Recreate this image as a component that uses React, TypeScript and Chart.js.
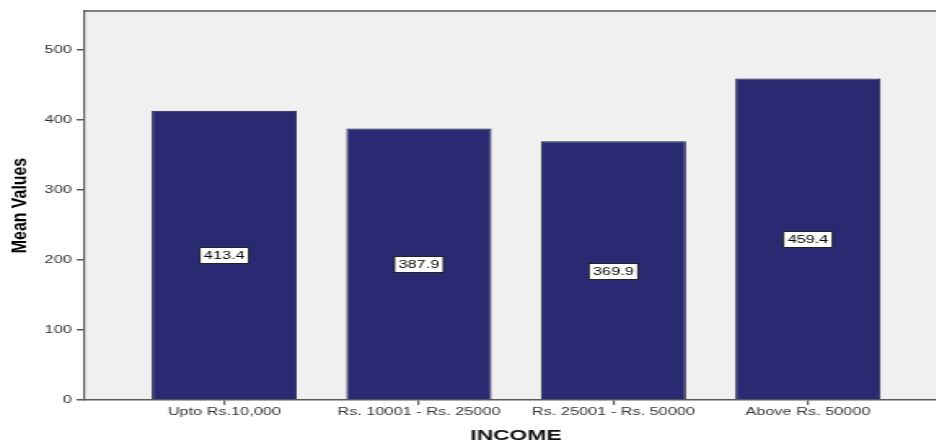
import React, { useEffect, useRef } from "react";
import { Chart, registerables } from "chart.js";

Chart.register(...registerables);

const categories = ["Upto Rs.10,000", "Rs. 10001 - Rs. 25000", "Rs. 25001 - Rs. 50000", "Above Rs. 50000"];
const meanValues = [413.4, 387.9, 369.9, 459.4];
const yTicks = [0, 100, 200, 300, 400, 500];

// the reference picture is stretched horizontally; draw narrow and stretch
const STRETCH = 1.63;
const CANVAS_W = 589;
const CANVAS_H = 445;

const frameColor = "#5a5a5a";
const FONT = "'Liberation Sans', Arial, sans-serif";

const plotFrame = {
  id: "plotFrame",
  beforeDraw(chart: any) {
    const { ctx, chartArea: a } = chart;
    ctx.save();
    ctx.fillStyle = "#f0f0f0";
    ctx.fillRect(a.left, a.top, a.right - a.left, a.bottom - a.top);
    ctx.strokeStyle = frameColor;
    ctx.lineWidth = 1.5;
    ctx.beginPath();
    ctx.moveTo(a.left, a.top);
    ctx.lineTo(CANVAS_W, a.top);
    ctx.stroke();
    ctx.restore();
  },
  afterDraw(chart: any) {
    const { ctx, chartArea: a } = chart;
    // y-axis title
    ctx.save();
    ctx.translate(12.5, (a.top + a.bottom) / 2);
    ctx.rotate(-Math.PI / 2);
    ctx.scale(1.27, 1);
    ctx.font = `bold 12.5px ${FONT}`;
    ctx.fillStyle = "#000";
    ctx.textAlign = "center";
    ctx.textBaseline = "middle";
    ctx.fillText("Mean Values", 0, 0);
    ctx.restore();
  },
};

const valueBoxes = {
  id: "valueBoxes",
  afterDatasetsDraw(chart: any) {
    const { ctx } = chart;
    const meta = chart.getDatasetMeta(0);
    const yScale = chart.scales.y;
    ctx.save();
    ctx.font = `10px ${FONT}`;
    ctx.textAlign = "center";
    ctx.textBaseline = "middle";
    meta.data.forEach((bar: any, i: number) => {
      const v = meanValues[i];
      const txt = v.toFixed(1);
      const cx = bar.x;
      const cy = yScale.getPixelForValue(v / 2);
      const w = ctx.measureText(txt).width + 5;
      const h = 16;
      const x0 = cx - w / 2;
      const y0 = Math.round(cy - h / 2) + 0.5;
      ctx.fillStyle = "#ffffff";
      ctx.fillRect(x0, y0, w, h);
      ctx.strokeStyle = "#222";
      ctx.lineWidth = 1;
      ctx.strokeRect(x0, y0, w, h);
      ctx.fillStyle = "#000";
      ctx.fillText(txt, cx, y0 + h / 2 + 0.5);
    });
    ctx.restore();
  },
};

export default function App() {
  const ref = useRef<HTMLCanvasElement>(null);
  useEffect(() => {
    if (!ref.current) return;
    const chart = new Chart(ref.current, {
      type: "bar",
      data: {
        datasets: [
          {
            data: meanValues.map((v, i) => ({ x: i, y: v })),
            backgroundColor: "#292a72",
            borderColor: "#1c1c40",
            borderWidth: 1,
            categoryPercentage: 1,
            barPercentage: 0.746,
          },
        ],
      },
      options: {
        animation: false,
        responsive: false,
        devicePixelRatio: 1,
        layout: { padding: { top: 11, right: CANVAS_W - 581, left: 0, bottom: 0 } },
        plugins: { legend: { display: false }, tooltip: { enabled: false } },
        scales: {
          x: {
            type: "linear",
            offset: false,
            min: -0.7175,
            max: 3.715,
            afterBuildTicks: (scale: any) => {
              scale.ticks = categories.map((_, i) => ({ value: i }));
            },
            afterFit: (scale: any) => {
              scale.height = 45;
            },
            ticks: {
              callback: (v: any) => categories[v as number] ?? "",
              color: "#333",
              font: { family: FONT, size: 10 },
              padding: 1,
              maxRotation: 0,
              autoSkip: false,
            },
            grid: { offset: false, drawOnChartArea: false, drawTicks: true, tickLength: 5, color: frameColor, lineWidth: 1.2 },
            border: { color: frameColor, width: 1.6 },
            title: {
              display: true,
              text: "INCOME",
              color: "#111",
              font: { family: FONT, size: 14, weight: "bold" },
              padding: { top: 0, bottom: 0 },
            },
          },
          y: {
            min: 0,
            max: 556,
            afterBuildTicks: (scale: any) => {
              scale.ticks = yTicks.map((v) => ({ value: v }));
            },
            afterFit: (scale: any) => {
              scale.width = 52;
            },
            ticks: {
              color: "#333",
              font: { family: FONT, size: 10 },
              padding: 3,
            },
            grid: { drawOnChartArea: false, drawTicks: true, tickLength: 5, color: frameColor, lineWidth: 1.5 },
            border: { color: frameColor, width: 1.2 },
          },
        },
      },
      plugins: [plotFrame, valueBoxes],
    } as any);
    return () => chart.destroy();
  }, []);
  return (
    <div style={{ position: "fixed", left: 0, top: 0, width: 936, height: 445, overflow: "hidden", background: "#fff" }}>
      <div style={{ transform: `scaleX(${STRETCH})`, transformOrigin: "0 0", width: CANVAS_W, height: CANVAS_H }}>
        <canvas ref={ref} width={CANVAS_W} height={CANVAS_H} style={{ width: CANVAS_W, height: CANVAS_H, display: "block" }} />
      </div>
    </div>
  );
}
